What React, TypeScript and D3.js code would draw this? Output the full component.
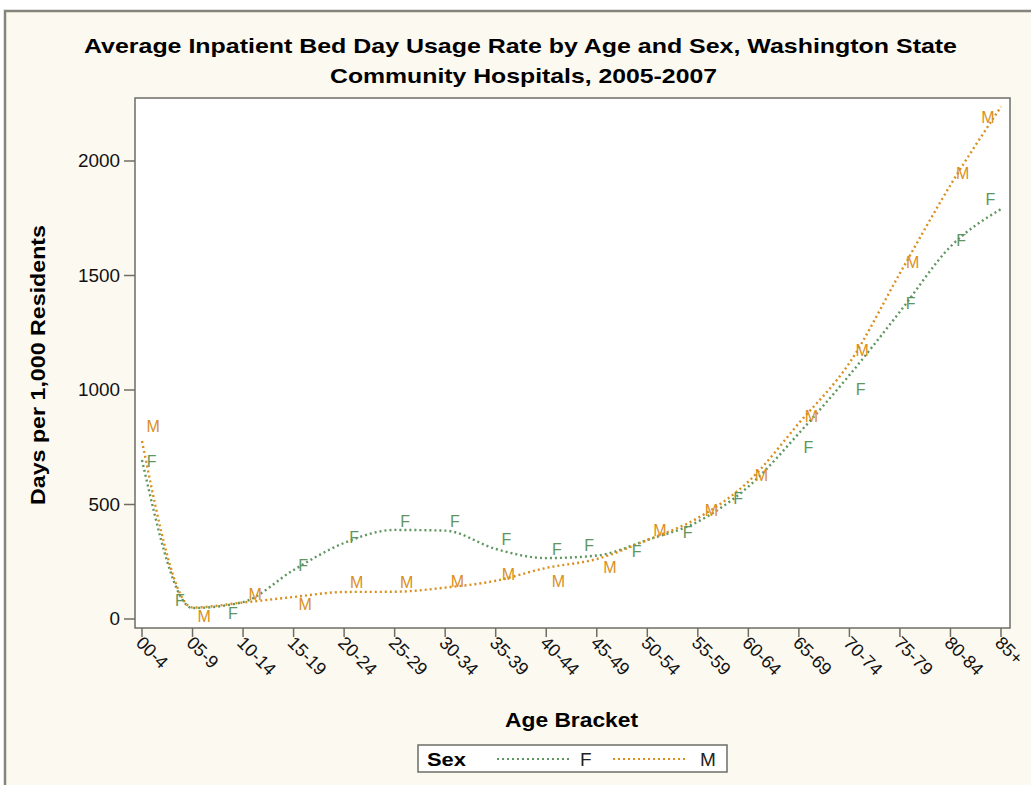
import React from 'react';
import * as d3 from 'd3';

// age brackets on the x axis
const ageBrackets = ['00-4', '05-9', '10-14', '15-19', '20-24', '25-29', '30-34', '35-39', '40-44',
  '45-49', '50-54', '55-59', '60-64', '65-69', '70-74', '75-79', '80-84', '85+'];

// observed rates (days per 1,000 residents)
const femaleRate = [687, 83, 25, 233, 359, 429, 425, 348, 304, 323, 294, 377, 526, 752, 1003, 1379, 1652, 1834];
const maleRate = [840, 13, 109, 66, 159, 159, 167, 197, 163, 228, 386, 476, 629, 886, 1175, 1556, 1946, 2189];

// smoothed fit
const femaleFit = [694, 48, 74, 214, 332, 389, 386, 306, 266, 277, 345, 425, 578, 811, 1065, 1342, 1626, 1790];
const maleFit = [777, 50, 72, 96, 118, 119, 137, 167, 223, 262, 345, 441, 600, 855, 1118, 1510, 1895, 2237];

// horizontal jitter of the letter markers, in bracket steps
const femaleJitter = [0.19, -0.25, -0.2, 0.19, 0.2, 0.21, 0.19, 0.21, 0.21, -0.15, -0.21, -0.2, -0.2, 0.19, 0.22, 0.21, 0.21, -0.21];
const maleJitter = [0.22, 0.23, 0.24, 0.23, 0.25, 0.24, 0.24, 0.25, 0.24, 0.26, 0.25, 0.27, 0.26, 0.25, 0.25, 0.25, 0.24, -0.26];

const yTicks = [0, 500, 1000, 1500, 2000];

const GREEN = '#5f9660';
const ORANGE = '#da8f1c';
const FONT = '"Liberation Sans", Arial, sans-serif';

export default function App() {
  const width = 1031, height = 785;
  const plot = { left: 135, top: 98, right: 1010, bottom: 628 };

  const x = d3.scalePoint<string>().domain(ageBrackets).range([142, 1001]);
  const step = x.step();
  const y = d3.scaleLinear().domain([0, 2000]).range([619, 161]);

  const line = d3.line<number>()
    .x((d, i) => x(ageBrackets[i]) as number)
    .y(d => y(d))
    .curve(d3.curveMonotoneX);

  const series = [
    { key: 'F', color: GREEN, rate: femaleRate, fit: femaleFit, jitter: femaleJitter },
    { key: 'M', color: ORANGE, rate: maleRate, fit: maleFit, jitter: maleJitter },
  ];

  return (
    <svg width={width} height={height} style={{ position: 'absolute', left: 0, top: 0 }} fontFamily={FONT}>
      <rect x={0} y={0} width={width} height={height} fill="#ffffff" />
      <rect x={5} y={11} width={width + 10} height={height + 10} fill="#fcf9f1" stroke="#85857d" strokeWidth={2.5} />

      {/* title */}
      <text x={84} y={53} fontSize={21} fontWeight="bold" fill="#000" textLength={873} lengthAdjust="spacingAndGlyphs">
        Average Inpatient Bed Day Usage Rate by Age and Sex, Washington State
      </text>
      <text x={330} y={83} fontSize={21} fontWeight="bold" fill="#000" textLength={387} lengthAdjust="spacingAndGlyphs">
        Community Hospitals, 2005-2007
      </text>

      {/* plot area */}
      <rect x={plot.left} y={plot.top} width={plot.right - plot.left} height={plot.bottom - plot.top}
        fill="#ffffff" stroke="#6e6e66" strokeWidth={1.5} />

      {/* y axis */}
      {yTicks.map(t => (
        <g key={t}>
          <line x1={124} x2={plot.left} y1={y(t)} y2={y(t)} stroke="#6e6e66" strokeWidth={1.5} />
          <text x={120} y={y(t)} dy="0.35em" textAnchor="end" fontSize={18} fill="#111"
            textLength={String(t).length * 10.5} lengthAdjust="spacingAndGlyphs">{t}</text>
        </g>
      ))}
      <text transform={`translate(45,${365}) rotate(-90)`} textAnchor="middle" fontSize={20} fontWeight="bold" fill="#000"
        textLength={280} lengthAdjust="spacingAndGlyphs">
        Days per 1,000 Residents
      </text>

      {/* x axis */}
      {ageBrackets.map(a => (
        <g key={a}>
          <line x1={x(a)} x2={x(a)} y1={plot.bottom} y2={plot.bottom + 9} stroke="#6e6e66" strokeWidth={1.5} />
          <text transform={`translate(${(x(a) as number) - 7},${644}) rotate(45)`} fontSize={18} fill="#111">{a}</text>
        </g>
      ))}
      <text x={505} y={727} fontSize={20} fontWeight="bold" fill="#000" textLength={133} lengthAdjust="spacingAndGlyphs">Age Bracket</text>

      {/* fitted curves */}
      {series.map(s => (
        <path key={s.key + '-fit'} d={line(s.fit) || ''} fill="none" stroke={s.color}
          strokeWidth={2.4} strokeDasharray="2 3" />
      ))}

      {/* letter markers */}
      {series.map(s => s.rate.map((v, i) => (
        <text key={s.key + i} x={(x(ageBrackets[i]) as number) + s.jitter[i] * step} y={y(v)} dy="0.36em"
          textAnchor="middle" fontSize={16} fill={s.color}>{s.key}</text>
      )))}

      {/* legend */}
      <rect x={418} y={745} width={309} height={27} fill="#ffffff" stroke="#6e6e66" strokeWidth={1.5} />
      <text x={427} y={766} fontSize={19} fontWeight="bold" fill="#000" textLength={39} lengthAdjust="spacingAndGlyphs">Sex</text>
      <line x1={497} x2={572} y1={759} y2={759} stroke={GREEN} strokeWidth={2.2} strokeDasharray="2 3" />
      <text x={580} y={766} fontSize={19} fill="#222">F</text>
      <line x1={613} x2={688} y1={759} y2={759} stroke={ORANGE} strokeWidth={2.2} strokeDasharray="2 3" />
      <text x={700} y={766} fontSize={19} fill="#222">M</text>
    </svg>
  );
}
